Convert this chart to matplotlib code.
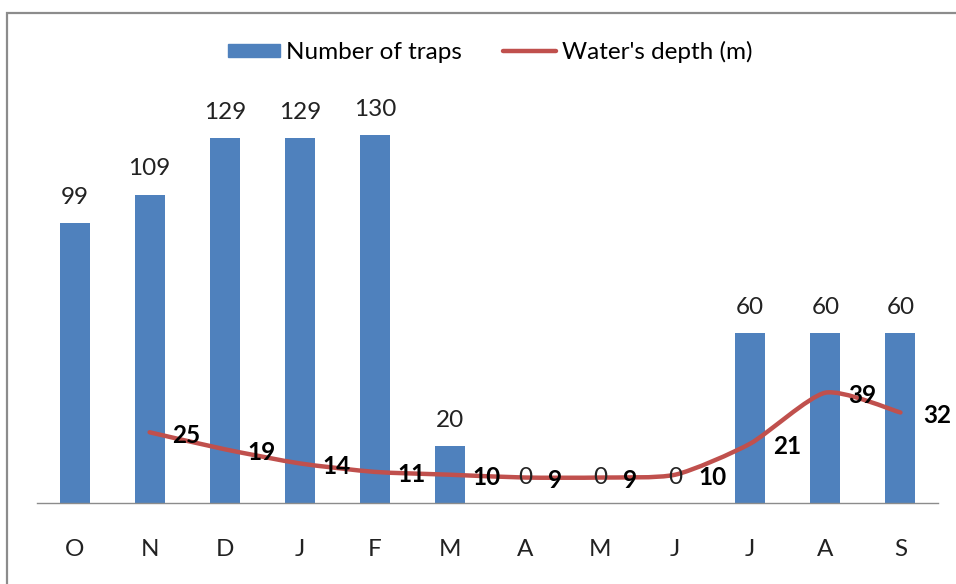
import matplotlib
matplotlib.use("Agg")
import matplotlib.pyplot as plt
from matplotlib.path import Path
from matplotlib.patches import PathPatch, Rectangle
from matplotlib.lines import Line2D
import numpy as np

months = ["O", "N", "D", "J", "F", "M", "A", "M", "J", "J", "A", "S"]
traps = [99, 109, 129, 129, 130, 20, 0, 0, 0, 60, 60, 60]
depth_months_idx = [1, 2, 3, 4, 5, 6, 7, 8, 9, 10, 11]
depth = [25, 19, 14, 11, 10, 9, 9, 10, 21, 39, 32]

BAR_C = "#4F81BD"
LINE_C = "#C0504D"
FS = 17.5

plt.rcParams['font.family'] = ['Lato', 'DejaVu Sans']

fig = plt.figure(figsize=(9.56, 5.84), dpi=100)
# outer chart border
fig.patches.append(Rectangle((7 / 956, -0.1), 1.2, 1 - 13 / 584 + 0.1,
                             transform=fig.transFigure, fill=False,
                             edgecolor="#8c8c8c", linewidth=1.6))

ax = fig.add_axes([37 / 956, 81 / 584, (938 - 37) / 956, (503 - 107) / 584])
x = np.arange(len(months))
ax.bar(x, traps, width=0.4, color=BAR_C, zorder=2)
ax.set_xlim(-0.5, len(months) - 0.5)
ax.set_ylim(0, 140)
for s in ["top", "right", "left"]:
    ax.spines[s].set_visible(False)
ax.spines["bottom"].set_color("#8c8c8c")
ax.spines["bottom"].set_linewidth(1.0)
ax.set_yticks([])
ax.set_xticks(x)
ax.set_xticklabels(months, fontsize=FS, color="#222222")
ax.tick_params(axis="x", length=0, pad=26)

# bar labels
for xi, v in zip(x, traps):
    ax.annotate(str(v), (xi, v), xytext=(0, 18.5), textcoords="offset points",
                ha="center", va="center", fontsize=FS, color="#222222", zorder=4)

# smoothed line (cardinal spline through the data points)
px = np.array(depth_months_idx, dtype=float)
py = np.array(depth, dtype=float)
verts = [(px[0], py[0])]
codes = [Path.MOVETO]
n = len(px)
k = 9.0
for i in range(n - 1):
    p0 = np.array([px[max(i - 1, 0)], py[max(i - 1, 0)]])
    p1 = np.array([px[i], py[i]])
    p2 = np.array([px[i + 1], py[i + 1]])
    p3 = np.array([px[min(i + 2, n - 1)], py[min(i + 2, n - 1)]])
    c1 = p1 + (p2 - p0) / k
    c2 = p2 - (p3 - p1) / k
    verts += [tuple(c1), tuple(c2), tuple(p2)]
    codes += [Path.CURVE4, Path.CURVE4, Path.CURVE4]
ax.add_patch(PathPatch(Path(verts, codes), facecolor="none", edgecolor=LINE_C,
                       linewidth=3.2, capstyle="round", joinstyle="round", zorder=3))

for xi, v in zip(px, py):
    ax.annotate(str(int(v)), (xi, v), xytext=(16.5, -2.2), textcoords="offset points",
                ha="left", va="center", fontsize=FS, fontweight="bold",
                color="black", zorder=5)

handles = [Rectangle((0, 0), 1, 1, color=BAR_C),
           Line2D([0], [0], color=LINE_C, linewidth=3.2, solid_capstyle="round")]
fig.legend(handles, ["Number of traps", "Water's depth (m)"],
           loc="center", bbox_to_anchor=(490 / 956, 1 - 52 / 584), ncol=2,
           frameon=False, fontsize=FS, handlelength=2.15, handleheight=0.45,
           handletextpad=0.25, columnspacing=1.7)

fig.savefig("out.png", dpi=100)
